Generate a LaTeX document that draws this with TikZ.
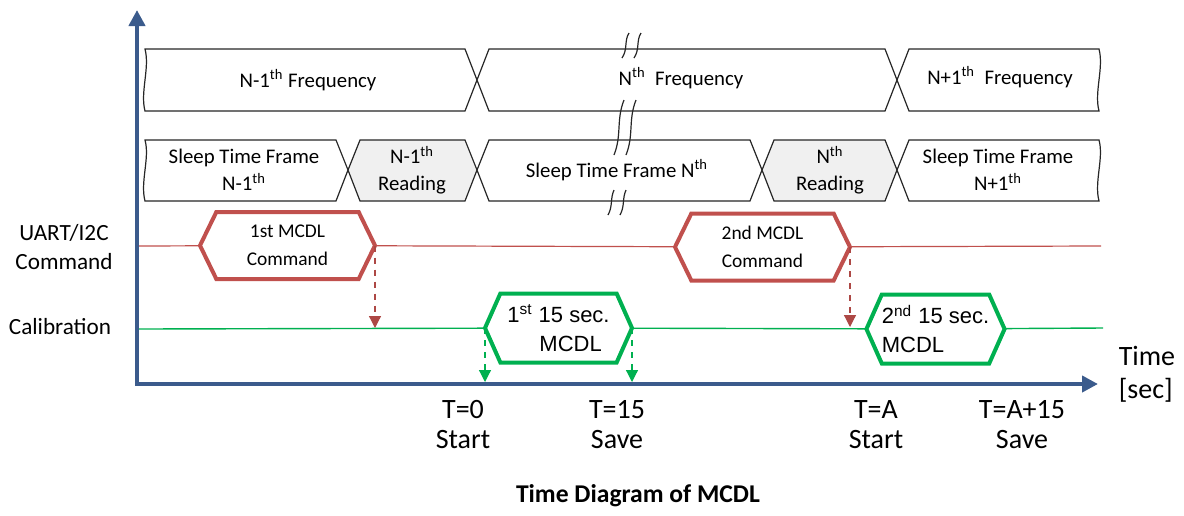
\documentclass[tikz,border=0pt]{standalone}
\usepackage{fontspec}
\setmainfont{Carlito}
\newfontfamily\arialfont{Liberation Sans}
\usetikzlibrary{arrows.meta,shapes.symbols}
\definecolor{axisblue}{RGB}{59,91,140}
\definecolor{cmdred}{RGB}{192,80,77}
\definecolor{calgreen}{RGB}{0,176,80}
\definecolor{readgray}{RGB}{240,240,240}
\tikzset{
  band/.style={draw=black!85,line width=0.6pt,fill=white,line join=miter},
  readband/.style={band,fill=readgray},
  bandtext/.style={font=\fontsize{10.4}{13.5}\selectfont,align=center,inner sep=0pt},
  sidetext/.style={font=\fontsize{11.6}{14.5}\selectfont,align=center,inner sep=0pt},
  ticktext/.style={font=\fontsize{14}{15}\selectfont,align=center,inner sep=0pt},
  cmdhex/.style={shape=signal,signal to=west and east,signal pointer angle=128,draw=cmdred,line width=2pt,fill=white,
    minimum width=87.5pt,minimum height=33.5pt,inner sep=0pt,outer sep=0pt,font=\fontsize{9.7}{14}\selectfont,align=center},
  calhex/.style={shape=signal,signal to=west and east,signal pointer angle=132,draw=calgreen,line width=2pt,fill=white,
    minimum height=34.5pt,inner sep=0pt,outer sep=0pt,font=\arialfont\fontsize{11}{14.5}\selectfont},
  cmdline/.style={draw=cmdred,line width=0.6pt},
  calline/.style={draw=calgreen,line width=0.7pt},
  reddash/.style={draw=cmdred!90!black,dashed,line width=0.6pt,-{Triangle[width=6pt,length=6pt]}},
  greendash/.style={draw=calgreen,dashed,line width=0.6pt,-{Triangle[width=6pt,length=6pt]}},
  axis/.style={draw=axisblue,line width=2pt,-{Triangle[width=8pt,length=8pt]}},
  breakmark/.style={draw=black!85,line width=0.6pt}
}
\begin{document}
\begin{tikzpicture}[x=0.5pt,y=-0.5pt]
        \useasboundingbox (0,0) rectangle (1184,515);
        %% Frequency row
        \draw[band] (145,49) -- (465,49) -- (477,80) -- (465,111) -- (145,111) .. controls (140,92) and (150,68) .. (145,49) -- cycle;
        \draw[band] (477,80) -- (489,49) -- (885,49) -- (897,80) -- (885,111) -- (489,111) -- cycle;
        \draw[band] (897,80) -- (909,49) -- (1099,49) .. controls (1104,68) and (1094,92) .. (1099,111) -- (909,111) -- cycle;
        \node[bandtext] (freqA) at (308,80) {N-1\textsuperscript{th} Frequency};
        \node[bandtext] (freqB) at (681,78) {N\textsuperscript{th}\ \ Frequency};
        \node[bandtext] (freqC) at (1000,77) {N+1\textsuperscript{th}\ \ Frequency};
        %% Sleep / reading row
        \draw[band] (145,140) -- (336,140) -- (348,170) -- (336,201) -- (145,201) .. controls (140,182) and (150,158) .. (145,140) -- cycle;
        \draw[readband] (348,170) -- (360,140) -- (465,140) -- (477,170) -- (465,201) -- (360,201) -- cycle;
        \draw[band] (477,170) -- (489,140) -- (750,140) -- (762,170) -- (750,201) -- (489,201) -- cycle;
        \draw[readband] (762,170) -- (774,140) -- (885,140) -- (897,170) -- (885,201) -- (774,201) -- cycle;
        \draw[band] (897,170) -- (909,140) -- (1099,140) .. controls (1104,158) and (1094,182) .. (1099,201) -- (909,201) -- cycle;
        \node[bandtext] (sleepA) at (244,170) {Sleep Time Frame\\N-1\textsuperscript{th}};
        \node[bandtext] (readA) at (412,170) {N-1\textsuperscript{th}\\Reading};
        \node[bandtext] (sleepB) at (617,170) {Sleep Time Frame N\textsuperscript{th}};
        \node[bandtext] (readB) at (830,170) {N\textsuperscript{th}\\Reading};
        \node[bandtext] (sleepC) at (998,170) {Sleep Time Frame\\N+1\textsuperscript{th}};
        %% Break marks
        \draw[breakmark] (629,33) .. controls (624,41) and (628,49) .. (622,58);
        \draw[breakmark] (641,33) .. controls (636,41) and (640,49) .. (634,58);
        \draw[breakmark] (624,100) .. controls (616,120) and (622,135) .. (614,155);
        \draw[breakmark] (636,100) .. controls (628,120) and (634,135) .. (626,155);
        \draw[breakmark] (614,190) .. controls (610,199) and (613,206) .. (608,215);
        \draw[breakmark] (626,190) .. controls (622,199) and (625,206) .. (620,215);
        %% Axes
        \coordinate (origin) at (137,384);
        \coordinate (ytop) at (137,10);
        \coordinate (xend) at (1098,384);
        \draw[axis] (origin) -- (ytop);
        \draw[axis] ([xshift=-1pt]origin) -- (xend);
        \node[font=\fontsize{14}{16.5}\selectfont,align=left,inner sep=0pt] (timelbl) at (1147,374) {Time\\{[sec]}};
        %% UART/I2C command
        \node[sidetext] (uartlbl) at (64,247) {UART/I2C\\Command};
        \coordinate (redstart) at (139,246);
        \coordinate (redend) at (1101,246);
        \node[cmdhex] (cmdA) at (287.5,245.5) {1st MCDL\\Command};
        \node[cmdhex] (cmdB) at (762.5,247) {2nd MCDL\\Command};
        \draw[cmdline] (redstart) -- (cmdA);
        \draw[cmdline] (cmdA) -- (cmdB);
        \draw[cmdline] (cmdB) -- (redend);
        %% Calibration
        \node[sidetext] (callbl) at (60,327) {Calibration};
        \coordinate (greenstart) at (139,329);
        \coordinate (greenend) at (1103,328);
        \node[calhex,minimum width=73.5pt,align=center] (calA) at (558.5,328) {1\textsuperscript{st} 15 sec.\\\hspace{1.1em}MCDL};
        \node[calhex,minimum width=68.5pt,align=left] (calB) at (935.5,329) {2\textsuperscript{nd} 15 sec.\\MCDL\hspace{3.9em}};
        \draw[calline] (greenstart) -- (calA);
        \draw[calline] (calA) -- (calB);
        \draw[calline] (calB) -- (greenend);
        %% Triggers
        \coordinate (hitA) at (cmdA.east |- greenstart);
        \coordinate (hitB) at (cmdB.east |- greenend);
        \coordinate (startA) at (calA.west |- origin);
        \coordinate (saveA) at (calA.east |- origin);
        \draw[reddash] (cmdA.east) -- ([yshift=0.5pt]hitA);
        \draw[reddash] (cmdB.east) -- ([yshift=0.5pt]hitB);
        \draw[greendash] (calA.west) -- ([yshift=1pt]startA);
        \draw[greendash] (calA.east) -- ([yshift=1pt]saveA);
        %% Time labels
        \node[ticktext] (tzero) at (463,425) {T=0\\Start};
        \node[ticktext] (tfifteen) at (617,425) {T=15\\Save};
        \node[ticktext] (tA) at (876,425) {T=A\\Start};
        \node[ticktext] (tAfifteen) at (1022,425) {T=A+15\\Save};
        \node[font=\bfseries\fontsize{12.8}{15}\selectfont,inner sep=0pt] (title) at (638,496) {Time Diagram of MCDL};
    \end{tikzpicture}
\end{document}
